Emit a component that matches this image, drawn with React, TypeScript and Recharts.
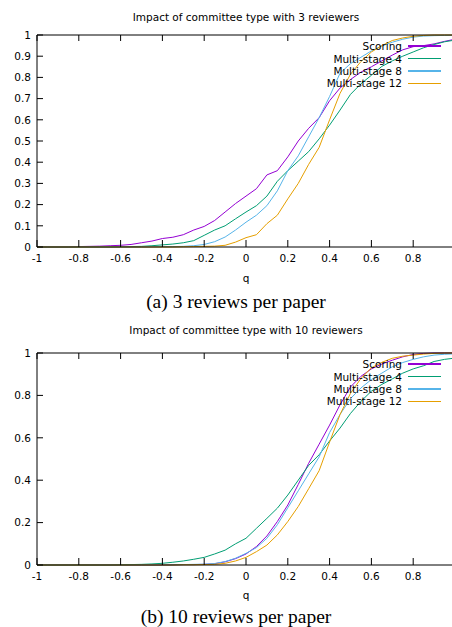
import React from 'react';
import { LineChart, Line, XAxis, YAxis, Legend } from 'recharts';

const qValues = [
  -1, -0.95, -0.9, -0.85, -0.8, -0.75, -0.7, -0.65, -0.6, -0.55,
  -0.5, -0.45, -0.4, -0.35, -0.3, -0.25, -0.2, -0.15, -0.1, -0.05,
  0, 0.05, 0.1, 0.15, 0.2, 0.25, 0.3, 0.35, 0.4, 0.45,
  0.5, 0.55, 0.6, 0.65, 0.7, 0.75, 0.8, 0.85, 0.9, 0.95, 1,
];

// (a) 3 reviewers
const scoring3 = [
  0, 0, 0, 0, 0.002, 0.003, 0.004, 0.006, 0.008, 0.012,
  0.02, 0.028, 0.04, 0.046, 0.058, 0.08, 0.097, 0.125, 0.165, 0.205,
  0.24, 0.275, 0.34, 0.36, 0.425, 0.5, 0.56, 0.61, 0.69, 0.75,
  0.79, 0.825, 0.85, 0.878, 0.905, 0.93, 0.945, 0.95, 0.958, 0.97, 0.98,
];
const multi4_3 = [
  0, 0, 0, 0, 0, 0, 0, 0, 0.001, 0.002,
  0.003, 0.006, 0.01, 0.014, 0.02, 0.03, 0.055, 0.08, 0.1, 0.133,
  0.165, 0.195, 0.24, 0.31, 0.36, 0.405, 0.45, 0.51, 0.575, 0.646,
  0.72, 0.77, 0.81, 0.852, 0.878, 0.9, 0.92, 0.94, 0.955, 0.968, 0.976,
];
const multi8_3 = [
  0, 0, 0, 0, 0, 0, 0, 0, 0, 0,
  0, 0.001, 0.002, 0.002, 0.003, 0.006, 0.012, 0.025, 0.047, 0.08,
  0.117, 0.15, 0.195, 0.265, 0.36, 0.43, 0.52, 0.61, 0.71, 0.82,
  0.865, 0.895, 0.925, 0.948, 0.966, 0.98, 0.99, 0.995, 0.997, 0.998, 0.999,
];
const multi12_3 = [
  0, 0, 0, 0, 0, 0, 0, 0, 0, 0,
  0, 0, 0, 0, 0.001, 0.002, 0.003, 0.004, 0.008, 0.023,
  0.044, 0.058, 0.11, 0.15, 0.227, 0.3, 0.39, 0.47, 0.6, 0.725,
  0.815, 0.875, 0.92, 0.95, 0.974, 0.986, 0.994, 0.998, 1, 1, 1,
];

// (b) 10 reviewers
const scoring10 = [
  0, 0, 0, 0, 0, 0, 0, 0, 0, 0,
  0, 0, 0, 0.001, 0.002, 0.002, 0.003, 0.006, 0.015, 0.03,
  0.052, 0.087, 0.137, 0.205, 0.283, 0.38, 0.48, 0.57, 0.66, 0.756,
  0.84, 0.89, 0.925, 0.948, 0.966, 0.982, 0.993, 0.998, 1, 1, 1,
];
const multi4_10 = [
  0, 0, 0, 0, 0, 0, 0, 0, 0.001, 0.002,
  0.003, 0.005, 0.008, 0.013, 0.019, 0.027, 0.036, 0.052, 0.07, 0.1,
  0.126, 0.173, 0.22, 0.268, 0.33, 0.4, 0.47, 0.52, 0.585, 0.646,
  0.715, 0.772, 0.82, 0.852, 0.878, 0.905, 0.925, 0.94, 0.96, 0.97, 0.976,
];
const multi8_10 = [
  0, 0, 0, 0, 0, 0, 0, 0, 0, 0,
  0, 0, 0, 0.001, 0.002, 0.003, 0.004, 0.007, 0.016, 0.032,
  0.055, 0.082, 0.126, 0.19, 0.27, 0.35, 0.43, 0.51, 0.625, 0.71,
  0.785, 0.835, 0.875, 0.905, 0.935, 0.955, 0.97, 0.982, 0.99, 0.994, 0.996,
];
const multi12_10 = [
  0, 0, 0, 0, 0, 0, 0, 0, 0, 0,
  0, 0, 0, 0, 0.001, 0.001, 0.002, 0.003, 0.008, 0.019,
  0.036, 0.063, 0.094, 0.142, 0.205, 0.276, 0.36, 0.445, 0.58, 0.71,
  0.81, 0.88, 0.93, 0.956, 0.975, 0.985, 0.99, 0.995, 0.998, 1, 1,
];

const xTicks = [-1, -0.8, -0.6, -0.4, -0.2, 0, 0.2, 0.4, 0.6, 0.8];
const yTicksA = [0, 0.1, 0.2, 0.3, 0.4, 0.5, 0.6, 0.7, 0.8, 0.9, 1];
const yTicksB = [0, 0.2, 0.4, 0.6, 0.8, 1];

const seriesNames = ['Scoring', 'Multi-stage 4', 'Multi-stage 8', 'Multi-stage 12'];
const seriesKeys = ['s', 'm4', 'm8', 'm12'];
const seriesColors = ['#9400d3', '#009e73', '#56b4e9', '#e69f00'];

const buildData = (s: number[], m4: number[], m8: number[], m12: number[]) =>
  qValues.map((q, i) => ({ q, s: s[i], m4: m4[i], m8: m8[i], m12: m12[i] }));

const dataA = buildData(scoring3, multi4_3, multi8_3, multi12_3);
const dataB = buildData(scoring10, multi4_10, multi8_10, multi12_10);

const FONT = 'DejaVu Sans';
const tickStyle = { fontFamily: FONT, fontSize: 10.5, fill: '#000' };

const renderLegend = () => (
  <div style={{ fontFamily: FONT, fontSize: 10.5, color: '#000' }}>
    {seriesNames.map((name, i) => (
      <div key={name} style={{ display: 'flex', alignItems: 'center', height: 12.4 }}>
        <span style={{ width: 102, textAlign: 'right', lineHeight: '12px', whiteSpace: 'nowrap' }}>{name}</span>
        <div style={{ marginLeft: 6, width: 33, height: 1.5, background: seriesColors[i] }} />
      </div>
    ))}
  </div>
);

const Chart = ({ data, yTicks }: { data: any[]; yTicks: number[] }) => (
  <LineChart width={470} height={290} data={data} margin={{ top: 34, right: 14, bottom: 42, left: 0 }}>
    <XAxis
      dataKey="q"
      type="number"
      domain={[-1, 1]}
      ticks={xTicks}
      interval={0}
      height={1}
      tickSize={-7}
      tickMargin={15}
      tick={tickStyle}
      axisLine={{ stroke: '#000' }}
      tickLine={{ stroke: '#000' }}
    />
    <XAxis
      xAxisId="top"
      orientation="top"
      dataKey="q"
      type="number"
      domain={[-1, 1]}
      ticks={xTicks}
      interval={0}
      height={1}
      tickSize={-6}
      tickFormatter={() => ''}
      axisLine={{ stroke: '#000' }}
      tickLine={{ stroke: '#000' }}
    />
    <YAxis
      type="number"
      domain={[0, 1]}
      ticks={yTicks}
      interval={0}
      width={37}
      tickSize={-6}
      tickMargin={12}
      tick={tickStyle}
      axisLine={{ stroke: '#000' }}
      tickLine={{ stroke: '#000' }}
    />
    <YAxis
      yAxisId="right"
      orientation="right"
      type="number"
      domain={[0, 1]}
      ticks={yTicks}
      interval={0}
      width={1}
      tickSize={-6}
      tickFormatter={() => ''}
      axisLine={{ stroke: '#000' }}
      tickLine={{ stroke: '#000' }}
    />
    <Legend
      layout="vertical"
      align="center"
      verticalAlign="middle"
      content={renderLegend}
      wrapperStyle={{ position: 'absolute', top: 40, left: 300, width: 145, height: 50 }}
    />
    {seriesKeys.map((k, i) => (
      <Line
        key={k}
        dataKey={k}
        name={seriesNames[i]}
        type="linear"
        stroke={seriesColors[i]}
        strokeWidth={1}
        dot={false}
        isAnimationActive={false}
      />
    ))}
  </LineChart>
);

const sansText = (text: string, top: number): React.ReactElement => (
  <div
    style={{
      position: 'absolute',
      left: 37,
      width: 418,
      top,
      textAlign: 'center',
      fontFamily: FONT,
      fontSize: 10.5,
      lineHeight: '10.5px',
      color: '#000',
      whiteSpace: 'nowrap',
    }}
  >
    {text}
  </div>
);

const caption = (text: string, top: number): React.ReactElement => (
  <div
    style={{
      position: 'absolute',
      left: 0,
      width: 472,
      top,
      textAlign: 'center',
      fontFamily: 'Liberation Serif',
      fontSize: 19.5,
      lineHeight: '19.5px',
      color: '#000',
      whiteSpace: 'nowrap',
    }}
  >
    {text}
  </div>
);

export default function App() {
  return (
    <div style={{ position: 'absolute', left: 0, top: 0, width: 452, height: 627, overflow: 'hidden', background: '#fff' }}>
      {sansText('Impact of committee type with 3 reviewers', 11.8)}
      <div style={{ position: 'absolute', left: 0, top: 0 }}>
        <Chart data={dataA} yTicks={yTicksA} />
      </div>
      {sansText('q', 272.8)}
      {caption('(a) 3 reviews per paper', 292.2)}

      {sansText('Impact of committee type with 10 reviewers', 325)}
      <div style={{ position: 'absolute', left: 0, top: 318 }}>
        <Chart data={dataB} yTicks={yTicksB} />
      </div>
      {sansText('q', 590)}
      {caption('(b) 10 reviews per paper', 606.7)}
    </div>
  );
}
